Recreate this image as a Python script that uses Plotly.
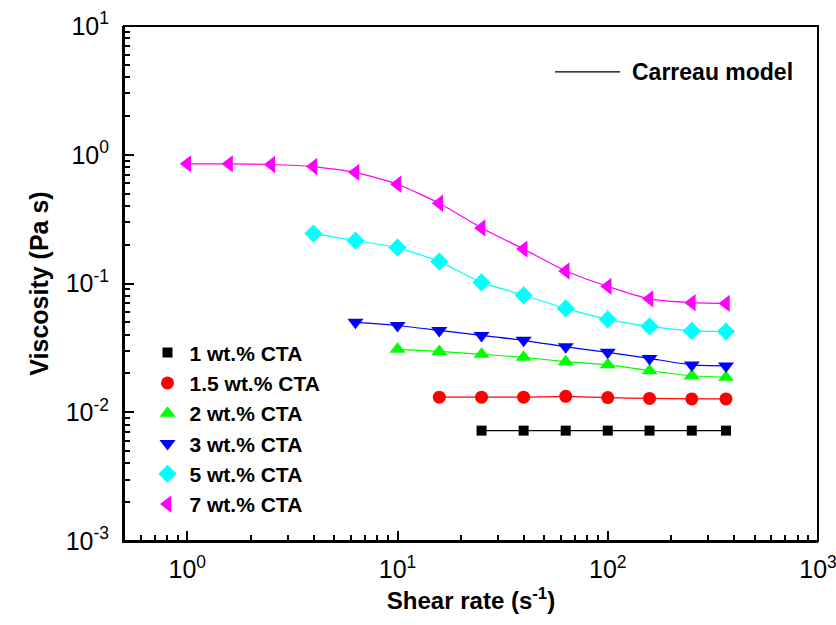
import plotly.graph_objects as go
import numpy as np

# Shear rates (s^-1)
rate_1 = [25.1, 39.8, 63.1, 100, 158, 251, 365]
rate_15 = [15.8, 25.1, 39.8, 63.1, 100, 158, 251, 365]
rate_2 = [10, 15.8, 25.1, 39.8, 63.1, 100, 158, 251, 365]
rate_3 = [6.31, 10, 15.8, 25.1, 39.8, 63.1, 100, 158, 251, 365]
rate_5 = [3.98, 6.31, 10, 15.8, 25.1, 39.8, 63.1, 100, 158, 251, 365]
rate_7 = [1.0, 1.58, 2.51, 3.98, 6.31, 10, 15.8, 25.1, 39.8, 63.1, 100, 158, 251, 365]

# Viscosity (Pa s)
visc_1 = [0.0072, 0.0072, 0.0072, 0.0072, 0.0072, 0.0072, 0.0072]
visc_15 = [0.0131, 0.0131, 0.0131, 0.0133, 0.0130, 0.0128, 0.0127, 0.0127]
visc_2 = [0.0308, 0.0297, 0.0282, 0.0267, 0.0247, 0.0234, 0.0210, 0.0192, 0.0187]
visc_3 = [0.0499, 0.0472, 0.0432, 0.0395, 0.0362, 0.0322, 0.0292, 0.0262, 0.0233, 0.0229]
visc_5 = [0.244, 0.215, 0.190, 0.148, 0.102, 0.081, 0.064, 0.0526, 0.0464, 0.0428, 0.0424]
visc_7 = [0.85, 0.85, 0.84, 0.81, 0.73, 0.59, 0.42, 0.27, 0.185, 0.125, 0.095, 0.076, 0.071, 0.070]

series_names = ["1 wt.% CTA", "1.5 wt.% CTA", "2 wt.% CTA", "3 wt.% CTA", "5 wt.% CTA", "7 wt.% CTA"]
series_x = [rate_1, rate_15, rate_2, rate_3, rate_5, rate_7]
series_y = [visc_1, visc_15, visc_2, visc_3, visc_5, visc_7]
colors = ["#000000", "#FF0000", "#00FF00", "#0000FF", "#00FFFF", "#FF00FF"]
symbols = ["square", "circle", "triangle-up", "triangle-down", "diamond", "triangle-left"]
sizes = [10, 13, 14, 14, 14, 15]

x_ticks = [1, 10, 100, 1000]
x_ticktext = ["10<sup>0</sup>", "10<sup>1</sup>", "10<sup>2</sup>", "10<sup>3</sup>"]
y_ticks = [0.001, 0.01, 0.1, 1, 10]
y_ticktext = ["10<sup>-3</sup>", "10<sup>-2</sup>", "10<sup>-1</sup>", "10<sup>0</sup>", "10<sup>1</sup>"]

FONT = "Liberation Sans, Arial, sans-serif"

fig = go.Figure()

# Carreau model fit lines
for xs, ys, c in zip(series_x, series_y, colors):
    fig.add_trace(go.Scatter(x=xs, y=ys, mode="lines",
                             line=dict(color=c, width=1.2, shape="spline", smoothing=0.5),
                             showlegend=False, hoverinfo="skip"))

# Measured points
for xs, ys, c, s, sz, n in zip(series_x, series_y, colors, symbols, sizes, series_names):
    fig.add_trace(go.Scatter(x=xs, y=ys, mode="markers", name=n,
                             marker=dict(color=c, symbol=s, size=sz, line=dict(width=0))))

minor_x = [m * 10.0 ** e for e in range(-1, 3) for m in range(2, 10) if 0.5 <= m * 10.0 ** e <= 1000]
minor_y = [m * 10.0 ** e for e in range(-3, 1) for m in range(2, 10)]

axis_common = dict(
    type="log", showgrid=False, zeroline=False,
    showline=True, linecolor="black", linewidth=2, mirror=False,
    ticks="inside", ticklen=10, tickwidth=2, tickcolor="black",
    tickmode="array", ticklabeloverflow="allow", automargin=False,
    tickfont=dict(family=FONT, size=25, color="black"),
)

fig.update_xaxes(**axis_common,
                 range=[np.log10(0.5), 3],
                 tickvals=x_ticks, ticktext=x_ticktext,
                 ticklabelstandoff=5,
                 minor=dict(tickmode="array", tickvals=minor_x, ticks="inside",
                            ticklen=6, tickwidth=1.5, tickcolor="black", showgrid=False),
                 title=dict(text="<b>Shear rate (s<sup>-1</sup>)</b>",
                            font=dict(family=FONT, size=24, color="black"), standoff=10))
fig.update_yaxes(**axis_common,
                 range=[-3, 1],
                 tickvals=y_ticks, ticktext=y_ticktext,
                 ticklabelstandoff=8,
                 minor=dict(tickmode="array", tickvals=minor_y, ticks="inside",
                            ticklen=6, tickwidth=1.5, tickcolor="black", showgrid=False),
                 title=dict(text="<b>Viscosity (Pa s)</b>",
                            font=dict(family=FONT, size=25, color="black"), standoff=10))

# Plot frame (box without mirrored ticks)
fig.add_shape(type="rect", xref="paper", yref="paper", x0=0, x1=1, y0=0, y1=1,
              line=dict(color="black", width=2), fillcolor="rgba(0,0,0,0)", layer="above")

# Carreau model key
fig.add_shape(type="line", xref="paper", yref="paper",
              x0=0.621, x1=0.715, y0=0.911, y1=0.911,
              line=dict(color="black", width=1.2))
fig.add_annotation(xref="paper", yref="paper", x=0.729, y=0.911,
                   text="<b>Carreau model</b>", showarrow=False,
                   xanchor="left", yanchor="middle",
                   font=dict(family=FONT, size=23, color="black"))

fig.update_layout(
    width=836, height=625,
    margin=dict(l=124, r=18, t=26, b=84, autoexpand=False),
    plot_bgcolor="white", paper_bgcolor="white",
    showlegend=True,
    legend=dict(x=0.031, y=0.405, xanchor="left", yanchor="top",
                bgcolor="rgba(0,0,0,0)", borderwidth=0,
                font=dict(family=FONT, size=21, color="black", weight="bold"),
                itemwidth=34, tracegroupgap=0),
    font=dict(family=FONT, color="black"),
)

fig.write_html("out.html")
